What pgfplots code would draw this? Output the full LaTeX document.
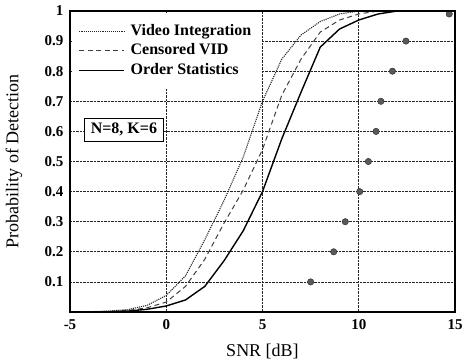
\documentclass[border=0pt]{standalone}
\usepackage{pgfplots}
\pgfplotsset{compat=1.18}
\usepackage{fontspec}
\setmainfont{Liberation Serif}
\begin{document}
\begin{tikzpicture}
\begin{axis}[
  name=ax,
  at={(0pt,0pt)}, anchor=south west,
  width=385pt, height=301pt, scale only axis,
  xmin=-5, xmax=15, ymin=0, ymax=1,
  xtick={-5,0,5,10,15},
  ytick={0.1,0.2,0.3,0.4,0.5,0.6,0.7,0.8,0.9,1},
  yticklabels={0.1,0.2,0.3,0.4,0.5,0.6,0.7,0.8,0.9,1},
  major tick length=0pt,
  /pgf/number format/assume math mode=true,
  ticklabel style={font=\bfseries\fontsize{15}{17}\selectfont},
  xticklabel style={yshift=-4pt},
  yticklabel style={xshift=-3pt},
  grid=major,
  grid style={densely dotted, black!85, line width=0.7pt},
  xlabel={SNR [dB]},
  ylabel={Probability of Detection},
  label style={font=\fontsize{18}{20}\selectfont},
  xlabel style={at={(axis description cs:0.5,-0.095)}, anchor=north},
  ylabel style={at={(axis description cs:-0.115,0.5)}, anchor=south},
  legend image code/.code={\draw[#1] (0pt,0pt) -- (45pt,0pt);},
  legend style={at={(axis description cs:0,1)}, anchor=north west,
    xshift=1.5pt, yshift=-1.5pt,
    draw=none, fill=white, inner xsep=7pt, inner ysep=9pt,
    font=\bfseries\fontsize{16}{19}\selectfont,
    nodes={text height=11pt, text depth=3.5pt, inner sep=2.5pt},
    /tikz/every odd column/.style={column sep=3pt}},
  legend cell align=left,
]
\addplot[densely dotted, line width=1.1pt, black!85] coordinates {
(-5,0) (-4,0.001) (-3,0.003) (-2,0.008) (-1,0.022) (0,0.055) (1,0.12) (2,0.24) (3,0.37) (4,0.515) (5,0.7) (6,0.84) (7,0.92) (8,0.965) (9,0.99) (10,1.0)
};
\addlegendentry{Video Integration}
\addplot[dash pattern=on 5pt off 3.5pt, line width=1pt, black!75] coordinates {
(-5,0) (-4,0.0005) (-3,0.002) (-2,0.005) (-1,0.014) (0,0.033) (1,0.085) (2,0.175) (3,0.295) (4,0.405) (5,0.54) (6,0.72) (7,0.84) (8,0.93) (9,0.97) (10,0.99) (11,1.0)
};
\addlegendentry{Censored VID}
\addplot[line width=1.4pt, black] coordinates {
(-5,0) (-4,0.0003) (-3,0.001) (-2,0.003) (-1,0.009) (0,0.02) (1,0.04) (2,0.085) (3,0.17) (4,0.27) (5,0.40) (6,0.575) (7,0.73) (8,0.88) (9,0.94) (10,0.97) (11,0.99) (12,1.0)
};
\addlegendentry{Order Statistics}
\addplot[only marks, mark=*, mark size=3.2pt, mark options={fill=black!65, draw=black!85}, forget plot] coordinates {
(7.5,0.1) (8.7,0.2) (9.3,0.3) (10.05,0.4) (10.5,0.5) (10.9,0.6) (11.15,0.7) (11.75,0.8) (12.45,0.9) (14.7,0.99)
};
\node[draw=black, line width=0.8pt, fill=white, inner xsep=6pt, inner ysep=5pt,
  font=\bfseries\fontsize{16}{19}\selectfont] at (axis cs:-2.2,0.606) {N=8, K=6};
\end{axis}
\draw[line width=2.6pt] (ax.south west) rectangle (ax.north east);
\pgfresetboundingbox
\path[use as bounding box] (-70pt,-50pt) rectangle (393pt,312pt);
\end{tikzpicture}
\end{document}
